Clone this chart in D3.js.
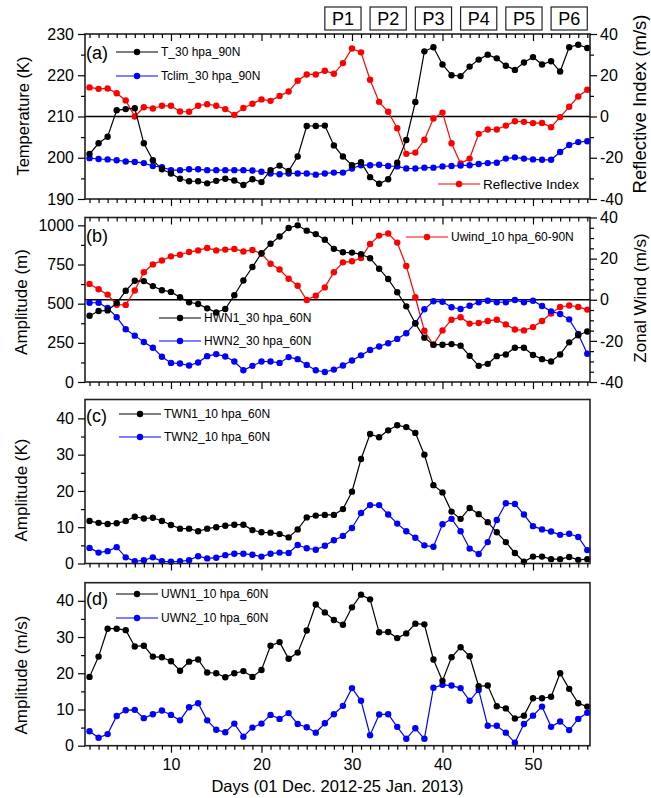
<!DOCTYPE html>
<html>
<head>
  <meta charset="utf-8">
  <title>Waves and zonal wind, Dec 2012 - Jan 2013</title>
  <script src="https://d3js.org/d3.v7.min.js"></script>
  <style>
    body { margin: 0; background: #fff; }
    svg text { font-family: "Liberation Sans", Arial, sans-serif; fill: #000; }
    .axis path { display: none; }
    .axis line { stroke: #000; stroke-width: 1.2; }
    .frame { fill: none; stroke: #222; stroke-width: 1.6; }
  </style>
</head>
<body>
<div id="chart"></div>
<script>
// x categories: day number from 01 Dec 2012
const days = [1,2,3,4,5,6,7,8,9,10,11,12,13,14,15,16,17,18,19,20,21,22,23,24,25,26,27,28,
  29,30,31,32,33,34,35,36,37,38,39,40,41,42,43,44,45,46,47,48,49,50,51,52,53,54,55,56];

// panel (a)
const t30 = [200.9,203.5,205.1,211.5,211.8,212.0,203.5,199.4,197.2,196.2,
  194.9,194.3,194.3,193.8,194.4,194.9,194.5,193.4,194.8,194.1,
  197.0,198.1,196.8,200.3,207.7,207.7,207.8,203.0,200.3,198.2,
  198.9,195.3,193.7,194.8,198.8,204.3,213.5,225.8,226.8,222.6,
  220.0,219.8,222.1,223.8,225.0,224.1,222.3,221.3,223.1,224.4,
  222.6,223.4,220.9,226.8,227.4,226.6];
const tclim = [199.9,199.7,199.6,199.4,199.1,199.0,198.7,198.0,197.7,197.0,
  197.0,197.2,197.2,197.0,197.0,197.0,197.0,197.0,196.9,196.6,
  196.2,196.0,196.2,196.2,196.2,195.9,196.2,196.4,196.4,197.4,
  198.2,198.2,198.3,198.0,197.9,197.4,197.4,197.6,197.6,197.9,
  198.0,198.1,198.2,198.5,198.7,198.8,199.8,200.1,199.8,199.6,
  199.5,199.5,201.4,203.1,203.8,204.0];
const reflIndex = [14.1,13.4,13.6,11.3,7.8,0.0,4.5,3.9,5.2,5.2,
  2.4,2.3,5.2,6.0,5.2,3.6,0.8,4.1,6.2,8.3,
  7.6,10.0,12.1,17.3,20.4,20.4,22.2,20.7,25.9,33.0,
  31.1,17.8,7.1,2.3,-5.7,-18.1,-17.5,-11.3,-1.0,1.9,
  -13.0,-22.8,-20.4,-8.4,-6.3,-6.3,-4.4,-2.3,-2.6,-3.2,
  -3.1,-5.2,-0.3,4.7,9.7,13.0];

// panel (b)
const hwn1 = [423,453,457,504,582,646,644,612,586,575,
  541,509,498,470,444,466,554,648,734,822,
  882,929,983,1000,966,944,908,850,828,826,
  815,790,723,657,573,483,373,283,238,238,
  242,232,167,103,116,165,176,219,219,172,
  146,131,176,253,298,322];
const hwn2 = [506,506,472,414,337,296,255,219,161,122,
  118,105,124,165,178,163,131,75,103,131,
  131,122,159,146,109,75,64,79,105,137,
  170,204,227,247,275,311,376,464,515,512,
  477,466,487,509,519,509,509,523,509,519,
  485,451,434,400,306,180];
const uwind = [7.7,5.1,2.5,-2.4,-2.5,4.5,13.4,17.2,19.1,21.1,
  21.9,23.2,24.0,25.2,24.0,24.4,24.7,23.5,24.2,22.4,
  17.5,14.7,10.2,6.8,-0.1,2.0,6.0,13.4,18.2,18.7,
  20.3,27.1,31.2,32.2,27.8,16.4,1.2,-15.1,-21.9,-14.9,
  -9.7,-8.5,-11.6,-11.3,-10.3,-9.7,-12.0,-14.5,-14.9,-13.3,
  -10.3,-6.7,-3.5,-2.8,-3.5,-4.8];

// panel (c)
const twn1 = [11.7,11.2,10.9,11.1,11.7,12.9,12.4,12.6,11.7,10.6,
  9.6,9.6,8.9,9.6,10.0,10.4,10.7,10.7,9.2,8.6,
  8.5,8.1,7.2,9.4,12.7,13.2,13.4,13.4,15.0,19.8,
  28.8,35.7,34.8,36.7,38.1,37.6,36.0,30.0,21.6,19.6,
  14.3,12.3,15.3,13.6,11.4,8.6,5.9,2.9,0.5,1.9,
  1.9,1.2,1.2,1.8,1.0,1.2];
const twn2 = [4.3,3.0,3.4,4.5,1.7,0.6,0.9,1.7,0.6,0.5,
  0.6,0.9,2.0,1.4,1.6,2.3,2.7,2.7,2.4,1.9,
  2.7,3.0,2.9,5.1,4.2,3.8,4.9,6.4,7.6,9.8,
  13.9,16.1,16.1,13.5,11.0,8.9,7.1,5.0,4.6,10.8,
  12.3,8.9,4.1,2.6,5.9,12.0,16.6,16.4,13.5,10.3,
  9.4,8.8,7.9,8.2,7.3,3.7];

// panel (d)
const uwn1 = [19.0,24.6,32.3,32.3,31.9,27.4,27.6,24.6,24.4,23.3,
  20.7,23.2,23.8,20.2,20.0,18.9,20.0,20.6,19.0,20.9,
  27.6,28.6,24.0,25.7,31.8,39.0,36.8,34.7,33.4,38.2,
  41.7,40.4,31.3,31.4,29.7,31.0,33.7,33.5,23.8,17.9,
  24.4,27.2,24.7,16.4,16.6,10.9,10.3,7.5,8.3,13.1,
  13.1,13.5,20.0,15.7,11.7,10.8];
const uwn2 = [4.0,2.2,3.2,8.2,9.8,9.9,7.6,8.7,9.7,8.5,
  7.0,10.6,11.7,7.0,4.4,3.7,6.1,2.5,5.0,6.1,
  8.5,7.4,9.0,6.0,5.1,3.6,6.2,8.7,11.0,15.9,
  12.4,2.9,8.6,8.7,5.2,1.9,4.8,1.9,16.0,16.8,
  16.6,15.9,12.4,15.4,5.5,5.5,3.6,0.8,6.0,8.3,
  10.8,5.2,6.7,4.3,7.4,9.1];

// period boxes above panel (a)
const periodLabels = ["P1", "P2", "P3", "P4", "P5", "P6"];
const periodCenters = [29, 34, 39, 44, 49, 54];

// x ticks
const xMajor = [10, 20, 30, 40, 50];
const xMinor = days.filter(d => d % 10 !== 0);

const width = 651, height = 798;
const left = 85, right = 590;

const svg = d3.select("#chart").append("svg")
  .attr("width", width)
  .attr("height", height);

const x = d3.scaleLinear().domain([0.5, 56.3]).range([left, right]);

// plain hyphen for negatives, like the original
const plain = d => String(d);

// draw a tick set (major + minor) with given generator
function ticks(gen, scale, major, minor, tx, ty, bigSize, smallSize, labelled, pad) {
  svg.append("g").attr("class", "axis")
    .attr("transform", "translate(" + tx + "," + ty + ")")
    .call(gen(scale).tickValues(minor).tickSize(smallSize).tickFormat(""));
  const g = svg.append("g").attr("class", "axis")
    .attr("transform", "translate(" + tx + "," + ty + ")")
    .call(gen(scale).tickValues(major).tickSize(bigSize).tickPadding(pad || 4)
      .tickFormat(labelled ? plain : ""));
  g.selectAll("text").style("font-size", "16px");
  return g;
}

function series(values, y, color) {
  const pts = days.map((d, i) => [d, values[i]]);
  svg.append("path")
    .datum(pts)
    .attr("fill", "none")
    .attr("stroke", color)
    .attr("stroke-width", 1.2)
    .attr("d", d3.line().x(d => x(d[0])).y(d => y(d[1])));
  svg.append("g").selectAll("circle")
    .data(pts)
    .enter().append("circle")
    .attr("cx", d => x(d[0]))
    .attr("cy", d => y(d[1]))
    .attr("r", 3.2)
    .attr("fill", color);
}

function legend(lx, ly, color, label, size) {
  svg.append("line")
    .attr("x1", lx).attr("x2", lx + 42).attr("y1", ly).attr("y2", ly)
    .attr("stroke", color).attr("stroke-width", 1.2);
  svg.append("circle").attr("cx", lx + 21).attr("cy", ly).attr("r", 3.2).attr("fill", color);
  svg.append("text")
    .attr("x", lx + 45).attr("y", ly).attr("dy", "0.35em")
    .style("font-size", (size || 12) + "px")
    .text(label);
}

function yTitle(tx, ty, label, size) {
  svg.append("text")
    .attr("transform", "translate(" + tx + "," + ty + ") rotate(-90)")
    .attr("text-anchor", "middle")
    .attr("dy", "0.35em")
    .style("font-size", (size || 17) + "px")
    .text(label);
}

function panelTag(ty, label) {
  svg.append("text").attr("x", 86).attr("y", ty)
    .style("font-size", "18px").text(label);
}

function frame(top, bottom) {
  svg.append("rect").attr("class", "frame")
    .attr("x", left).attr("y", top)
    .attr("width", right - left).attr("height", bottom - top);
}

function zeroLine(y) {
  svg.append("line")
    .attr("x1", left).attr("x2", right)
    .attr("y1", y(0)).attr("y2", y(0))
    .attr("stroke", "#000").attr("stroke-width", 1.3);
}

// ---------- panel (a) ----------
const aTop = 34, aBot = 199;
const yA = d3.scaleLinear().domain([190, 230]).range([aBot, aTop]);
const yA2 = d3.scaleLinear().domain([-40, 40]).range([aBot, aTop]);

zeroLine(yA2);
series(reflIndex, yA2, "#ff0000");
series(tclim, yA, "#0000ff");
series(t30, yA, "#000000");
frame(aTop, aBot);
ticks(d3.axisLeft, yA, [190, 200, 210, 220, 230], [195, 205, 215, 225], left, 0, 7, 4, true);
ticks(d3.axisRight, yA2, [-40, -20, 0, 20, 40], [-30, -10, 10, 30], right, 0, 7, 4, true, 3);
ticks(d3.axisBottom, x, xMajor, xMinor, 0, aBot, 7, 4, false);
ticks(d3.axisTop, x, xMajor, xMinor, 0, aTop, -7, -4, false);
panelTag(59, "(a)");
legend(116, 52, "#000000", "T_30 hpa_90N");
legend(116, 76, "#0000ff", "Tclim_30 hpa_90N");
legend(438, 184, "#ff0000", "Reflective Index", 13.5);
yTitle(23, 116, "Temperature (K)", 16.5);
yTitle(640, 104, "Reflective Index (m/s)", 18.5);

// period boxes
const pb = svg.append("g").selectAll("g")
  .data(periodLabels)
  .enter().append("g");
pb.append("rect")
  .attr("x", (d, i) => x(periodCenters[i] - 2))
  .attr("y", 7)
  .attr("width", (d, i) => x(periodCenters[i] + 2) - x(periodCenters[i] - 2))
  .attr("height", 23)
  .attr("fill", "#fff").attr("stroke", "#222").attr("stroke-width", 1.2);
pb.append("text")
  .attr("x", (d, i) => x(periodCenters[i]))
  .attr("y", 25)
  .attr("text-anchor", "middle")
  .style("font-size", "18px")
  .text(d => d);

// ---------- panel (b) ----------
const bTop = 217.5, bBot = 382;
const yB = d3.scaleLinear().domain([0, 1050]).range([bBot, bTop]);
const yB2 = d3.scaleLinear().domain([-40, 40]).range([bBot, bTop]);

zeroLine(yB2);
series(uwind, yB2, "#ff0000");
series(hwn2, yB, "#0000ff");
series(hwn1, yB, "#000000");
frame(bTop, bBot);
ticks(d3.axisLeft, yB, [0, 250, 500, 750, 1000], [125, 375, 625, 875], left, 0, 7, 4, true);
ticks(d3.axisRight, yB2, [-40, -20, 0, 20, 40],
  [-35, -30, -25, -15, -10, -5, 5, 10, 15, 25, 30, 35], right, 0, 7, 4, true, 3);
ticks(d3.axisBottom, x, xMajor, xMinor, 0, bBot, 7, 4, false);
ticks(d3.axisTop, x, xMajor, xMinor, 0, bTop, -7, -4, false);
panelTag(242, "(b)");
legend(406, 237, "#ff0000", "Uwind_10 hpa_60-90N");
legend(159, 318, "#000000", "HWN1_30 hpa_60N");
legend(159, 341, "#0000ff", "HWN2_30 hpa_60N");
yTitle(21, 302, "Amplitude (m)");
yTitle(640, 298, "Zonal Wind (m/s)");

// ---------- panel (c) ----------
const cTop = 399.5, cBot = 563.5;
const yC = d3.scaleLinear().domain([0, 45.2]).range([cBot, cTop]);

series(twn2, yC, "#0000ff");
series(twn1, yC, "#000000");
frame(cTop, cBot);
ticks(d3.axisLeft, yC, [0, 10, 20, 30, 40], [5, 15, 25, 35], left, 0, 7, 4, true);
ticks(d3.axisBottom, x, xMajor, xMinor, 0, cBot, 7, 4, false);
panelTag(422, "(c)");
legend(119, 414, "#000000", "TWN1_10 hpa_60N");
legend(119, 437, "#0000ff", "TWN2_10 hpa_60N");
yTitle(21, 490, "Amplitude (K)");

// ---------- panel (d) ----------
const dTop = 582.7, dBot = 745.7;
const yD = d3.scaleLinear().domain([0, 45]).range([dBot, dTop]);

series(uwn2, yD, "#0000ff");
series(uwn1, yD, "#000000");
frame(dTop, dBot);
ticks(d3.axisLeft, yD, [0, 10, 20, 30, 40], [5, 15, 25, 35], left, 0, 7, 4, true);
ticks(d3.axisBottom, x, xMajor, xMinor, 0, dBot, 7, 4, true, 6);
panelTag(605, "(d)");
legend(116, 594, "#000000", "UWN1_10 hpa_60N");
legend(116, 618, "#0000ff", "UWN2_10 hpa_60N");
yTitle(21, 675, "Amplitude (m/s)");

svg.append("text")
  .attr("x", (left + right) / 2)
  .attr("y", 792)
  .attr("text-anchor", "middle")
  .style("font-size", "16.5px")
  .text("Days (01 Dec. 2012-25 Jan. 2013)");
</script>
</body>
</html>
